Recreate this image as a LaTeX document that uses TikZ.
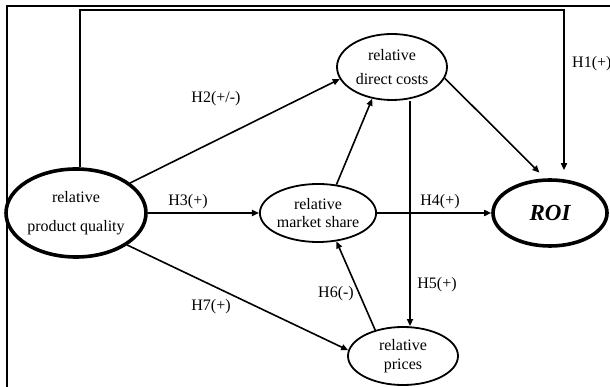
\documentclass[tikz,border=0pt]{standalone}
\usepackage{fontspec}
\setmainfont{Liberation Serif}
\usetikzlibrary{shapes.geometric,arrows.meta}
\begin{document}
\begin{tikzpicture}[x=1pt,y=-1pt,
  conn/.style={line width=1.6pt,-{Triangle[length=7pt,width=6pt]}},
  var/.style={ellipse,draw,line width=1.8pt,inner sep=0pt,align=center,font=\fontsize{16}{18.5}\selectfont},
  thickvar/.style={var,line width=3.6pt},
  lbl/.style={font=\fontsize{16}{19}\selectfont,inner sep=0pt}]
\useasboundingbox (0,0) rectangle (610,387);
% frame
\draw[line width=1.6pt] (7,387) -- (7,6) -- (610,6);
% nodes
\node[thickvar,minimum width=140pt,minimum height=88pt] (PQ) at (76,213) {relative\\[11pt]product quality};
\node[var,minimum width=110pt,minimum height=66pt] (DC) at (392,67) {relative\\[6pt]direct costs};
\node[var,minimum width=110pt,minimum height=58pt] (MS) at (318,213) {relative\\market share};
\node[var,minimum width=110pt,minimum height=58pt] (RP) at (403,356) {relative\\prices};
\node[thickvar,minimum width=114pt,minimum height=66pt,font=\fontsize{23}{26}\selectfont\bfseries\itshape] (ROI) at (550,213) {ROI};
% helper coordinates
\coordinate (h1a) at (80,10);
\coordinate (h1b) at (564,10);
\coordinate (h5) at (410,0);
% connectors
\draw[conn,shorten >=8pt] (PQ.north -| h1a) -- (h1a) -- (h1b) -- (ROI.north -| h1b);
\draw[conn] (PQ.29) -- (DC.193);
\draw[conn] (PQ.east) -- (MS.west);
\draw[conn] (PQ.-32) -- (RP.174);
\draw[conn] (MS.57) -- (DC.238);
\draw[conn] (MS.east) -- (ROI.west);
\draw[conn] (RP.137) -- (MS.-57);
\draw[conn] (DC.south -| h5) -- (RP.north -| h5);
\draw[conn,shorten >=8pt] (DC.-12) -- (ROI.98);
% labels
\node[lbl,anchor=west] (l1) at (572,64) {H1(+)};
\node[lbl] (l2) at (216,99) {H2(+/-)};
\node[lbl] (l3) at (188,202) {H3(+)};
\node[lbl] (l4) at (440,202) {H4(+)};
\node[lbl] (l5) at (437,285) {H5(+)};
\node[lbl] (l6) at (336,294) {H6(-)};
\node[lbl] (l7) at (211,307) {H7(+)};
\end{tikzpicture}
\end{document}
